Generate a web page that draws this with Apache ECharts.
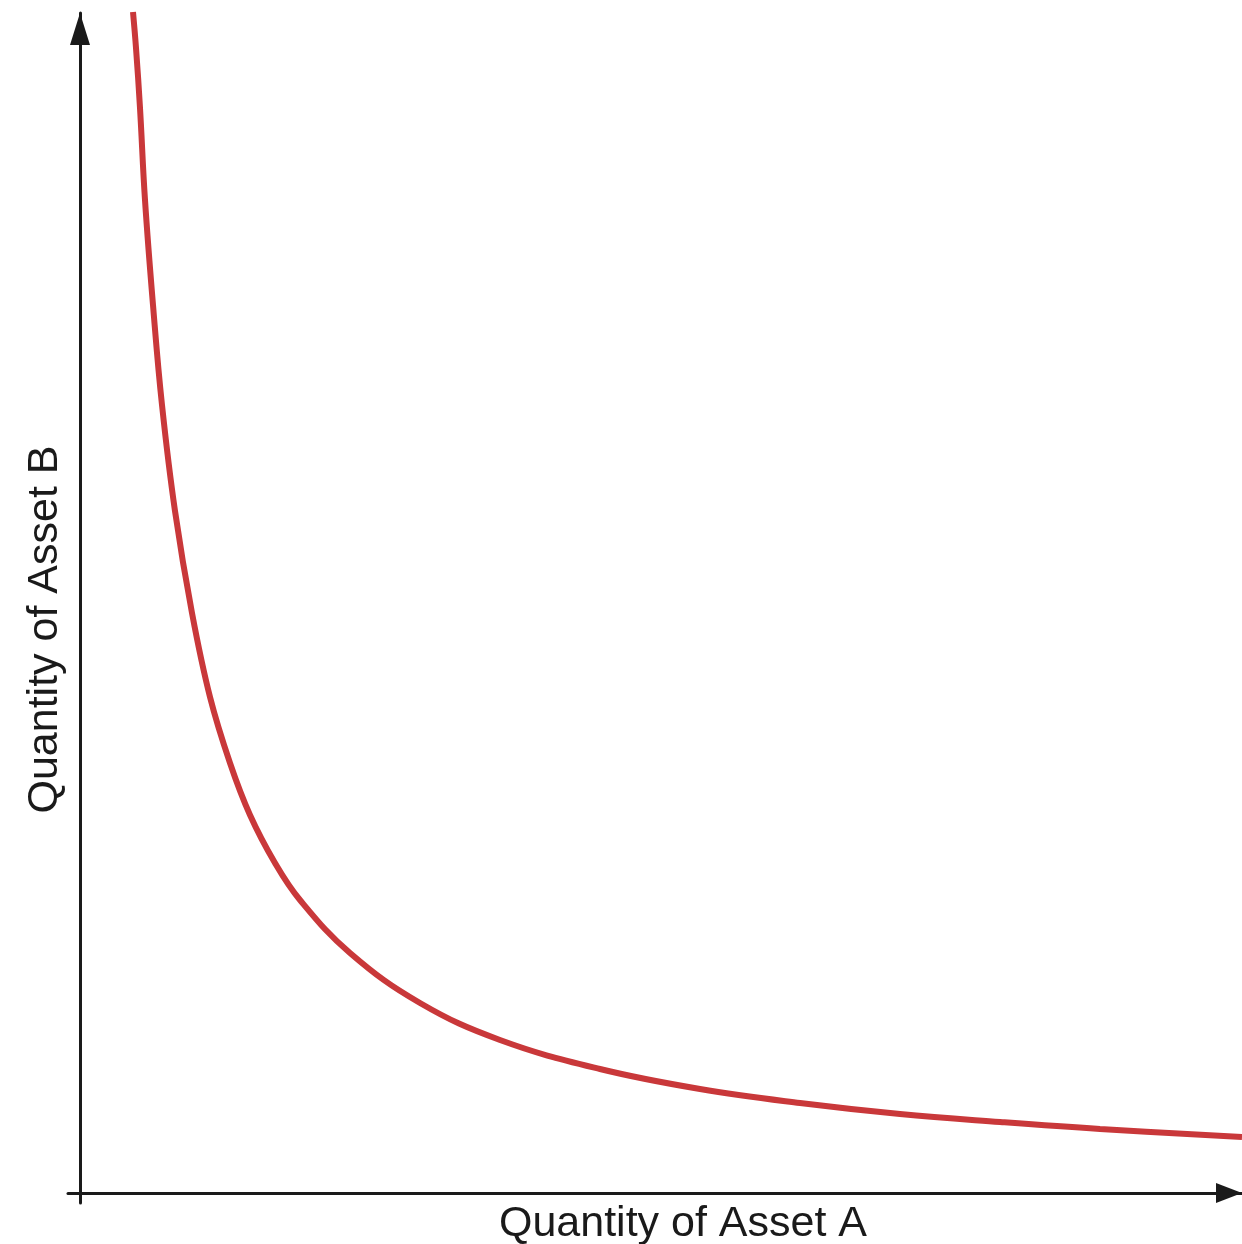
<!DOCTYPE html>
<html>
<head>
<meta charset="utf-8">
<script src="https://cdn.jsdelivr.net/npm/echarts@6/dist/echarts.min.js"></script>
<style>
html,body{margin:0;padding:0;background:#fff;}
#chart{width:1242px;height:1244px;}
</style>
</head>
<body>
<div id="chart"></div>
<script>
// Quantity of Asset A (x) and Quantity of Asset B (y)
var assetA = [0.53, 0.56, 0.60, 0.65, 0.73, 0.82, 0.95, 1.12, 1.30, 1.50, 1.70, 1.95, 2.20, 2.70, 3.40, 4.20, 5.20, 6.20, 7.20, 8.20, 9.20, 10.20, 11.62];
var assetB = [11.81, 11.45, 10.85, 9.93, 8.88, 7.88, 6.82, 5.80, 4.96, 4.30, 3.78, 3.30, 2.93, 2.40, 1.90, 1.53, 1.24, 1.04, 0.90, 0.79, 0.71, 0.64, 0.56];
var xTitle = 'Quantity of Asset A';
var yTitle = 'Quantity of Asset B';

var points = assetA.map(function (a, i) { return [a, assetB[i]]; });

var chart = echarts.init(document.getElementById('chart'));
var axisColor = '#1a1a1a';
chart.setOption({
  animation: false,
  backgroundColor: '#ffffff',
  grid: { left: 68, right: 0, top: 13, bottom: 41, containLabel: false, outerBoundsMode: 'none' },
  xAxis: {
    type: 'value', min: -0.12, max: 11.62,
    name: xTitle, nameLocation: 'middle', nameGap: 0,
    nameTextStyle: { fontFamily: 'Liberation Sans', fontSize: 43, color: '#1a1a1a', padding: [0, 0, 0, 56] },
    axisLine: { onZero: true, symbol: ['none', 'triangle'], symbolSize: [20, 26], symbolOffset: [0, -13],
      lineStyle: { color: axisColor, width: 3 } },
    axisTick: { show: false }, axisLabel: { show: false }, splitLine: { show: false }
  },
  yAxis: {
    type: 'value', min: -0.10, max: 11.80,
    name: yTitle, nameLocation: 'middle', nameGap: 1,
    nameTextStyle: { fontFamily: 'Liberation Sans', fontSize: 43, color: '#1a1a1a', padding: [0, 43, 0, 0] },
    axisLine: { onZero: true, symbol: ['none', 'triangle'], symbolSize: [20, 32], symbolOffset: [0, -16],
      lineStyle: { color: axisColor, width: 3 } },
    axisTick: { show: false }, axisLabel: { show: false }, splitLine: { show: false }
  },
  series: [{
    type: 'line', data: points, smooth: 0.4, showSymbol: false, clip: true,
    lineStyle: { color: '#c9383a', width: 6 }
  }]
});
</script>
</body>
</html>
